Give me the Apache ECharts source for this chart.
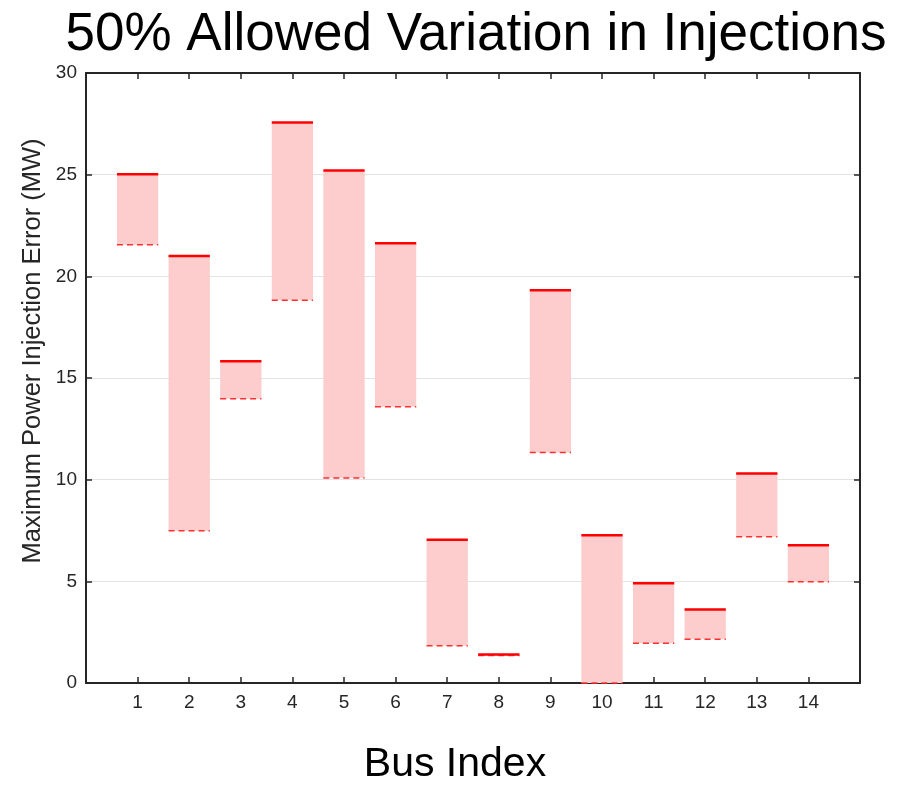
<!DOCTYPE html>
<html>
<head>
<meta charset="utf-8">
<script src="https://cdn.jsdelivr.net/npm/echarts@6/dist/echarts.min.js"></script>
<style>html,body{margin:0;padding:0;background:#fff;}#c{width:911px;height:785px;}</style>
</head>
<body>
<div id="c"></div>
<script>
const buses = [1, 2, 3, 4, 5, 6, 7, 8, 9, 10, 11, 12, 13, 14];
const upper = [25.02, 21.0, 15.82, 27.57, 25.2, 21.63, 7.05, 1.40, 19.32, 7.27, 4.9, 3.61, 10.3, 6.77];
const lower = [21.55, 7.49, 13.98, 18.82, 10.08, 13.59, 1.83, 1.35, 11.33, 0, 1.95, 2.15, 7.19, 4.98];
const yTicks = [0, 5, 10, 15, 20, 25, 30];

const FONT = '"Liberation Sans", Arial, Helvetica, sans-serif';
const AXC = '#262626';
const data = buses.map((b, i) => [b, lower[i], upper[i]]);

const chart = echarts.init(document.getElementById('c'), null, {renderer: 'canvas'});
const tickStyle = {show: true, inside: true, length: 6, lineStyle: {color: AXC, width: 1.5}};
chart.setOption({
  animation: false,
  backgroundColor: '#fff',
  grid: {left: 86, right: 51, top: 73, bottom: 102, containLabel: false},
  xAxis: [{
    type: 'value', min: 0, max: 15, interval: 1, position: 'bottom',
    axisLine: {show: true, onZero: false, lineStyle: {color: AXC, width: 2}},
    axisTick: tickStyle,
    splitLine: {show: false},
    axisLabel: {
      fontFamily: FONT, fontSize: 19, color: '#262626', margin: 10,
      formatter: v => (buses.indexOf(v) >= 0 ? String(v) : '')
    }
  }, {
    type: 'value', min: 0, max: 15, interval: 1, position: 'top',
    axisLine: {show: true, onZero: false, lineStyle: {color: AXC, width: 2}},
    axisTick: tickStyle,
    splitLine: {show: false},
    axisLabel: {show: false}
  }],
  yAxis: [{
    type: 'value', min: yTicks[0], max: yTicks[yTicks.length - 1], interval: 5, position: 'left',
    axisLine: {show: true, onZero: false, lineStyle: {color: AXC, width: 2}},
    axisTick: tickStyle,
    splitLine: {show: true, lineStyle: {color: '#e3e3e3', width: 1}},
    axisLabel: {fontFamily: FONT, fontSize: 19, color: '#262626', margin: 9}
  }, {
    type: 'value', min: yTicks[0], max: yTicks[yTicks.length - 1], interval: 5, position: 'right',
    axisLine: {show: true, onZero: false, lineStyle: {color: AXC, width: 2}},
    axisTick: tickStyle,
    splitLine: {show: false},
    axisLabel: {show: false}
  }],
  graphic: [{
    type: 'text', x: 476, y: 35,
    style: {text: '50% Allowed Variation in Injections', fontFamily: FONT, fontSize: 53, fill: '#000', align: 'center', verticalAlign: 'middle'}
  }, {
    type: 'text', x: 455, y: 765,
    style: {text: 'Bus Index', fontFamily: FONT, fontSize: 41, fill: '#000', align: 'center', verticalAlign: 'middle'}
  }, {
    type: 'text', x: 33, y: 351, rotation: Math.PI / 2,
    style: {text: 'Maximum Power Injection Error (MW)', fontFamily: FONT, fontSize: 25.5, fill: '#262626', align: 'center', verticalAlign: 'middle'}
  }],
  series: [{
    type: 'custom',
    xAxisIndex: 0, yAxisIndex: 0,
    data: data,
    encode: {x: 0, y: [1, 2]},
    renderItem: function (params, api) {
      const x = api.value(0);
      const lo = api.coord([x, api.value(1)]);
      const hi = api.coord([x, api.value(2)]);
      const w = api.size([0.8, 0])[0];
      const x0 = lo[0] - w / 2, x1 = lo[0] + w / 2;
      return {
        type: 'group',
        children: [{
          type: 'rect',
          shape: {x: x0, y: hi[1], width: w, height: lo[1] - hi[1]},
          style: {fill: '#fdcccc'}
        }, {
          type: 'line',
          shape: {x1: x0, y1: lo[1], x2: x1, y2: lo[1]},
          style: {stroke: '#ff3030', lineWidth: 1.5, lineDash: [6, 4]}
        }, {
          type: 'line',
          shape: {x1: x0, y1: hi[1], x2: x1, y2: hi[1]},
          style: {stroke: '#ff0000', lineWidth: 2.5}
        }]
      };
    }
  }]
});
</script>
</body>
</html>
